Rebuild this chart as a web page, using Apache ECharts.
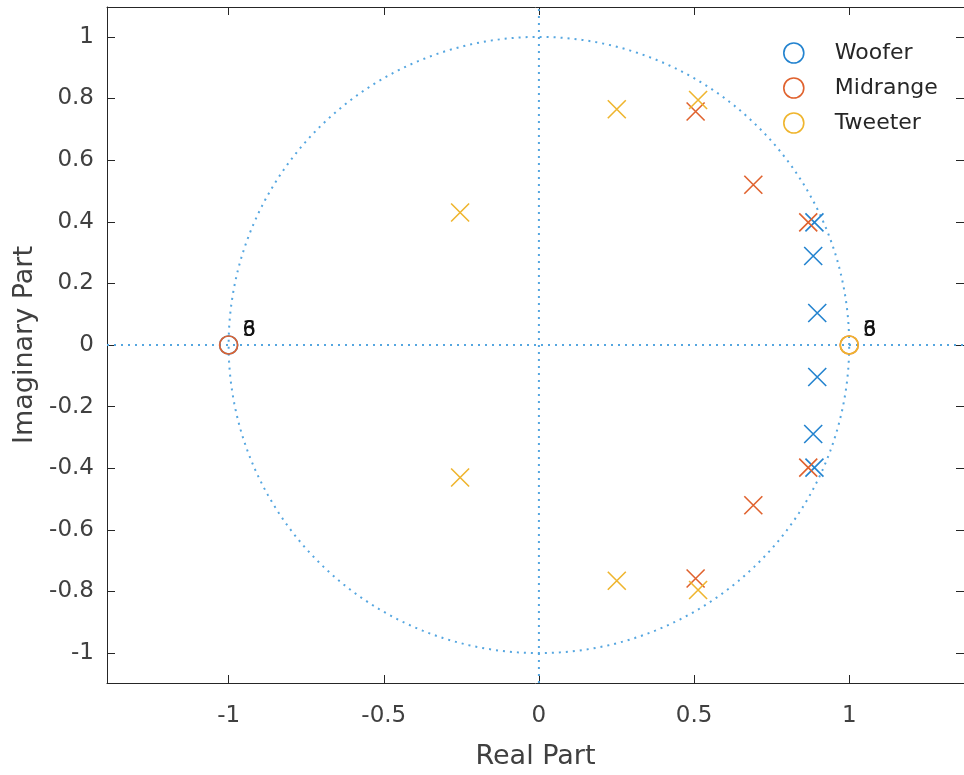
<!DOCTYPE html>
<html>
<head>
<meta charset="utf-8">
<script src="https://cdn.jsdelivr.net/npm/echarts@6/dist/echarts.min.js"></script>
<style>
html,body{margin:0;padding:0;background:#fff;}
#chart{width:964px;height:775px;}
</style>
</head>
<body>
<div id="chart"></div>
<script>
// ---- data ----
const seriesNames = ['Woofer', 'Midrange', 'Tweeter'];
const wooferPoles = [[0.888, 0.398], [0.884, 0.289], [0.897, 0.104], [0.897, -0.104], [0.884, -0.289], [0.888, -0.398]];
const midrangePoles = [[0.868, 0.398], [0.691, 0.520], [0.505, 0.758], [0.505, -0.758], [0.691, -0.520], [0.868, -0.398]];
const tweeterPoles = [[0.513, 0.795], [0.251, 0.765], [-0.254, 0.430], [-0.254, -0.430], [0.251, -0.765], [0.513, -0.795]];
const wooferZeros = [[-1, 0]];
const wooferZeroMult = ['6'];
const midrangeZeros = [[-1, 0], [1, 0]];
const midrangeZeroMult = ['3', '3'];
const tweeterZeros = [[1, 0]];
const tweeterZeroMult = ['6'];
const xTickValues = [-1, -0.5, 0, 0.5, 1];
const xTickLabels = ['-1', '-0.5', '0', '0.5', '1'];
const yTickValues = [-1, -0.8, -0.6, -0.4, -0.2, 0, 0.2, 0.4, 0.6, 0.8, 1];
const yTickLabels = ['-1', '-0.8', '-0.6', '-0.4', '-0.2', '0', '0.2', '0.4', '0.6', '0.8', '1'];
const xLimits = [-1.392, 1.370];
const yLimits = [-1.097, 1.097];

// ---- style ----
const colors = ['#2383cf', '#e0622e', '#efb52e'];
const guideColor = '#55a6e0';
const axisColor = '#262626';
const font = 'DejaVu Sans';

// unit circle geometry
const unitCircle = [];
for (let i = 0; i <= 360; i++) {
  const t = i * Math.PI / 180;
  unitCircle.push([Math.cos(t), Math.sin(t)]);
}

const crossPath = 'path://M0,0L10,10M10,0L0,10';

function labelMap(values, labels) {
  return function (v) {
    for (let i = 0; i < values.length; i++) if (Math.abs(values[i] - v) < 1e-9) return labels[i];
    return '';
  };
}

function guide(data) {
  return {
    type: 'line', data: data, symbol: 'none', silent: true, z: 1,
    xAxisIndex: 0, yAxisIndex: 0,
    lineStyle: { color: guideColor, width: 2, type: [2, 5] }
  };
}

function zeroSeries(name, data, mult, color) {
  return {
    name: name, type: 'scatter', data: data, z: 4,
    symbol: 'circle', symbolSize: 18,
    itemStyle: { color: 'transparent', borderColor: color, borderWidth: 1.6, opacity: 1 },
    label: {
      show: true, position: 'right', distance: 2, offset: [2, -14],
      formatter: function (p) { return mult[p.dataIndex]; },
      fontFamily: font, fontSize: 21, color: '#111'
    }
  };
}

function poleSeries(name, data, color) {
  return {
    name: name + ' poles', type: 'scatter', data: data, z: 3,
    symbol: crossPath, symbolSize: 18,
    itemStyle: { color: 'none', borderColor: color, borderWidth: 1.6, opacity: 1 }
  };
}

const chart = echarts.init(document.getElementById('chart'), null, { renderer: 'canvas' });
const option = {
  animation: false,
  backgroundColor: '#ffffff',
  grid: { left: 107, width: 859, top: 7, height: 683, containLabel: false },
  legend: {
    orient: 'vertical', left: 778, top: 37, padding: 5,
    itemWidth: 20, itemHeight: 20, itemGap: 13,
    icon: 'circle',
    textStyle: { fontFamily: font, fontSize: 22, color: '#262626', padding: [0, 0, 0, 26], lineHeight: 20 },
    data: seriesNames.map((n, i) => ({
      name: n,
      itemStyle: { color: 'transparent', borderColor: colors[i], borderWidth: 1.6 }
    }))
  },
  xAxis: [{
    type: 'value', position: 'bottom', min: xLimits[0], max: xLimits[1],
    name: 'Real Part', nameLocation: 'middle', nameGap: 60,
    nameTextStyle: { fontFamily: font, fontSize: 27, color: '#404040' },
    axisLine: { show: true, onZero: false, lineStyle: { color: axisColor, width: 1 } },
    axisTick: { show: true, inside: true, length: 8, customValues: xTickValues, lineStyle: { color: axisColor } },
    axisLabel: { customValues: xTickValues, formatter: labelMap(xTickValues, xTickLabels), fontFamily: font, fontSize: 23, color: '#404040', margin: 22 },
    splitLine: { show: false }
  }, {
    type: 'value', position: 'top', min: xLimits[0], max: xLimits[1],
    axisLine: { show: true, onZero: false, lineStyle: { color: axisColor, width: 1 } },
    axisTick: { show: true, inside: true, length: 8, customValues: xTickValues, lineStyle: { color: axisColor } },
    axisLabel: { show: false },
    splitLine: { show: false }
  }],
  yAxis: [{
    type: 'value', position: 'left', min: yLimits[0], max: yLimits[1],
    name: 'Imaginary Part', nameLocation: 'middle', nameGap: 68,
    nameTextStyle: { fontFamily: font, fontSize: 27, color: '#404040' },
    axisLine: { show: true, onZero: false, lineStyle: { color: axisColor, width: 1 } },
    axisTick: { show: true, inside: true, length: 8, customValues: yTickValues, lineStyle: { color: axisColor } },
    axisLabel: { customValues: yTickValues, formatter: labelMap(yTickValues, yTickLabels), fontFamily: font, fontSize: 23, color: '#404040', margin: 13 },
    splitLine: { show: false }
  }, {
    type: 'value', position: 'right', min: yLimits[0], max: yLimits[1],
    axisLine: { show: true, onZero: false, lineStyle: { color: axisColor, width: 1 } },
    axisTick: { show: true, inside: true, length: 8, customValues: yTickValues, lineStyle: { color: axisColor } },
    axisLabel: { show: false },
    splitLine: { show: false }
  }],
  series: [
    guide([[xLimits[0], 0], [xLimits[1], 0]]),
    guide([[0, yLimits[0]], [0, yLimits[1]]]),
    guide(unitCircle),
    poleSeries('Woofer', wooferPoles, colors[0]),
    poleSeries('Midrange', midrangePoles, colors[1]),
    poleSeries('Tweeter', tweeterPoles, colors[2]),
    zeroSeries('Woofer', wooferZeros, wooferZeroMult, colors[0]),
    zeroSeries('Midrange', midrangeZeros, midrangeZeroMult, colors[1]),
    zeroSeries('Tweeter', tweeterZeros, tweeterZeroMult, colors[2])
  ]
};
chart.setOption(option);
</script>
</body>
</html>
